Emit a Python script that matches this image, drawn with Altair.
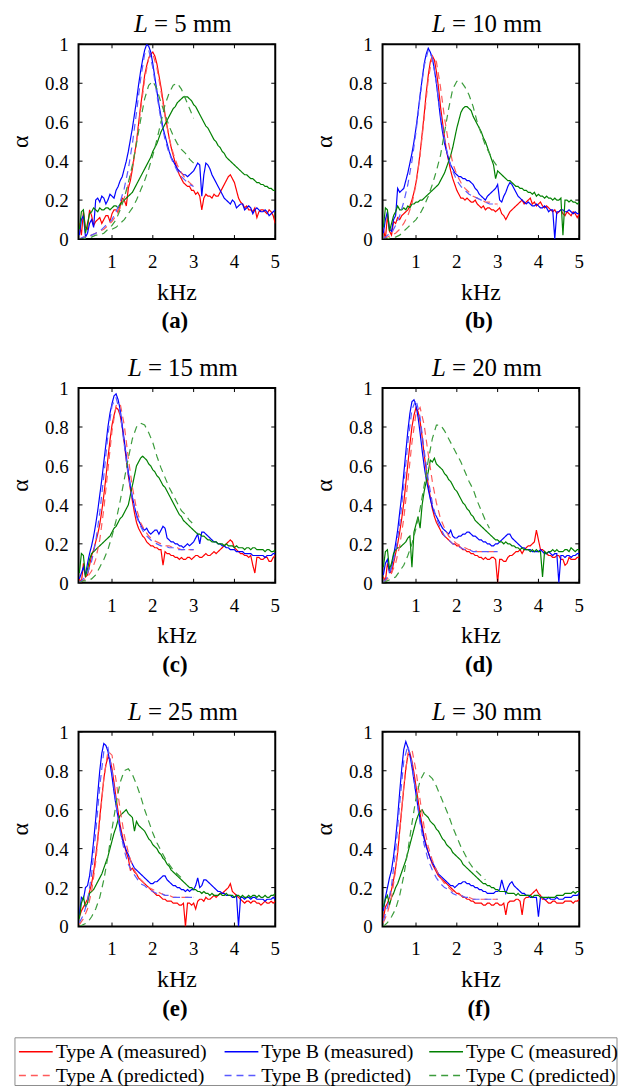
import altair as alt
import pandas as pd

FONT = "Liberation Serif"

FREQ = [0.20, 0.25, 0.30, 0.35, 0.40, 0.45, 0.50, 0.55, 0.60, 0.65,
        0.70, 0.75, 0.80, 0.85, 0.90, 0.95, 1.00, 1.05, 1.10, 1.15,
        1.20, 1.25, 1.30, 1.35, 1.40, 1.45, 1.50, 1.55, 1.60, 1.65,
        1.70, 1.75, 1.80, 1.85, 1.90, 1.95, 2.00, 2.05, 2.10, 2.15,
        2.20, 2.25, 2.30, 2.35, 2.40, 2.45, 2.50, 2.55, 2.60, 2.65,
        2.70, 2.75, 2.80, 2.85, 2.90, 2.95, 3.00, 3.05, 3.10, 3.15,
        3.20, 3.25, 3.30, 3.35, 3.40, 3.45, 3.50, 3.55, 3.60, 3.65,
        3.70, 3.75, 3.80, 3.85, 3.90, 3.95, 4.00, 4.05, 4.10, 4.15,
        4.20, 4.25, 4.30, 4.35, 4.40, 4.45, 4.50, 4.55, 4.60, 4.65,
        4.70, 4.75, 4.80, 4.85, 4.90, 4.95, 5.00]
PRED_FREQ = [0.2, 0.3, 0.4, 0.5, 0.6, 0.7, 0.8, 0.9, 1.0, 1.1,
             1.2, 1.3, 1.4, 1.5, 1.6, 1.7, 1.8, 1.9, 2.0, 2.1,
             2.2, 2.3, 2.4, 2.5, 2.6, 2.7, 2.8, 2.9, 3.0]

X_TICKS = [1, 2, 3, 4, 5]
X_LABELS = ["1", "2", "3", "4", "5"]
Y_TICKS = [0, 0.2, 0.4, 0.6, 0.8, 1]
Y_LABELS = ["0", "0.2", "0.4", "0.6", "0.8", "1"]
X_TITLE = "kHz"
Y_TITLE = "α"
LENGTHS = [5, 10, 15, 20, 25, 30]
LETTERS = ["a", "b", "c", "d", "e", "f"]

SERIES = ["Type A (measured)", "Type B (measured)", "Type C (measured)",
          "Type A (predicted)", "Type B (predicted)", "Type C (predicted)"]
COLORS = ["#ff0000", "#0000ff", "#008000", "#ff5a5a", "#5a5aff", "#3c9c3c"]

# ---------------- L = 5 mm ----------------
A5 = [.08, .02, .14, .06, .05, .15, .12, .07, .09, .10,
      .11, .08, .10, .12, .12, .09, .13, .15, .15, .14,
      .17, .21, .20, .17, .26, .30, .36, .43, .50, .59,
      .68, .76, .84, .89, .93, .95, .96, .94, .90, .84,
      .78, .71, .64, .58, .52, .47, .43, .39, .36, .33,
      .31, .29, .28, .27, .27, .25, .25, .23, .24, .22,
      .15, .21, .23, .22, .22, .21, .23, .22, .22, .24,
      .26, .28, .30, .32, .33, .31, .29, .25, .21, .19,
      .18, .16, .17, .15, .15, .14, .16, .11, .14, .15,
      .15, .14, .13, .15, .14, .12, .08]
B5 = [.02, .10, .12, .01, .03, .08, .10, .06, .20, .21,
      .19, .22, .21, .18, .20, .23, .22, .21, .25, .27,
      .30, .32, .36, .40, .45, .51, .57, .64, .71, .79,
      .86, .92, .97, 1.00, .99, .96, .90, .83, .76, .69,
      .63, .57, .53, .49, .45, .42, .40, .38, .36, .35,
      .34, .33, .33, .32, .33, .34, .35, .37, .39, .38,
      .22, .33, .39, .38, .36, .33, .31, .29, .27, .25,
      .23, .21, .20, .19, .18, .20, .19, .16, .17, .18,
      .18, .15, .16, .17, .16, .13, .15, .16, .15, .14,
      .14, .15, .14, .12, .13, .14, .15]
C5 = [.05, .14, .15, .03, .08, .13, .14, .16, .15, .14,
      .16, .15, .15, .16, .16, .15, .16, .17, .17, .16,
      .18, .19, .20, .21, .22, .23, .24, .26, .28, .30,
      .32, .34, .36, .38, .40, .42, .45, .47, .49, .52,
      .55, .57, .59, .61, .63, .65, .67, .68, .70, .71,
      .72, .73, .73, .73, .72, .71, .69, .68, .66, .64,
      .62, .60, .58, .57, .55, .53, .51, .50, .48, .47,
      .45, .44, .42, .41, .40, .39, .38, .37, .36, .35,
      .34, .33, .33, .32, .31, .31, .30, .29, .29, .28,
      .28, .27, .27, .26, .26, .25, .25]
PA5 = [0.00, 0.01, 0.01, 0.02, 0.03, 0.04, 0.05, 0.07, 0.09, 0.12,
       0.16, 0.21, 0.28, 0.37, 0.50, 0.66, 0.82, 0.93, 0.95, 0.88,
       0.76, 0.63, 0.52, 0.44, 0.38, 0.34, 0.31, 0.29, 0.27]
PB5 = [0.00, 0.01, 0.01, 0.02, 0.03, 0.04, 0.06, 0.08, 0.10, 0.14,
       0.19, 0.26, 0.36, 0.49, 0.65, 0.82, 0.95, 0.97, 0.88, 0.74,
       0.61, 0.51, 0.44, 0.39, 0.35, 0.32, 0.30, 0.28, 0.27]
PC5 = [0.00, 0.00, 0.01, 0.01, 0.02, 0.02, 0.03, 0.05, 0.07, 0.10,
       0.15, 0.21, 0.29, 0.38, 0.49, 0.61, 0.72, 0.79, 0.81, 0.77,
       0.70, 0.64, 0.58, 0.53, 0.49, 0.46, 0.44, 0.41, 0.39]
# second dashed Type C curve visible in panel (a)
PC5_SECOND = [None, None, None, None, None, None, None, None, 0.05, 0.06,
              0.08, 0.10, 0.13, 0.16, 0.20, 0.25, 0.30, 0.36, 0.43, 0.51,
              0.60, 0.69, 0.75, 0.79, 0.80, 0.77, 0.72, 0.67, 0.62]

# ---------------- L = 10 mm ----------------
A10 = [.05, .00, .12, .04, .02, .09, .08, .11, .10, .12,
       .13, .14, .15, .17, .20, .24, .29, .36, .44, .54,
       .64, .75, .84, .91, .94, .92, .86, .78, .68, .60,
       .52, .45, .40, .35, .31, .28, .25, .23, .21, .21,
       .20, .21, .20, .19, .19, .20, .18, .17, .16, .17,
       .15, .16, .16, .15, .15, .14, .15, .16, .13, .12,
       .10, .12, .14, .15, .16, .17, .18, .19, .20, .18,
       .19, .20, .21, .18, .19, .17, .18, .19, .17, .16,
       .17, .16, .15, .14, .15, .13, .14, .15, .13, .12,
       .14, .13, .12, .14, .13, .11, .13]
B10 = [.03, .10, .14, .05, .04, .10, .12, .26, .24, .25,
       .26, .30, .34, .39, .44, .50, .57, .65, .74, .82,
       .90, .95, .98, .96, .93, .87, .80, .71, .62, .55,
       .49, .45, .41, .38, .36, .34, .33, .32, .32, .31,
       .31, .30, .30, .29, .28, .26, .25, .23, .22, .21,
       .20, .22, .23, .24, .25, .26, .28, .20, .19, .22,
       .24, .27, .29, .28, .26, .24, .22, .21, .20, .19,
       .18, .19, .18, .17, .17, .18, .17, .16, .16, .17,
       .16, .14, .15, .15, .00, .14, .14, .15, .15, .14,
       .14, .15, .14, .13, .14, .13, .13]
C10 = [.06, .16, .15, .04, .08, .12, .14, .17, .15, .15,
       .16, .15, .17, .16, .18, .18, .19, .19, .20, .20,
       .21, .22, .23, .24, .25, .26, .27, .28, .30, .32,
       .34, .37, .40, .43, .47, .52, .57, .61, .65, .67,
       .68, .68, .67, .66, .63, .61, .59, .57, .55, .52,
       .50, .47, .44, .41, .38, .31, .35, .34, .33, .32,
       .31, .30, .30, .29, .28, .27, .27, .26, .26, .25,
       .25, .24, .24, .23, .24, .22, .23, .22, .22, .21,
       .22, .21, .21, .20, .21, .20, .20, .21, .02, .20,
       .20, .19, .20, .19, .19, .18, .19]
PA10 = [0.00, 0.01, 0.02, 0.03, 0.05, 0.08, 0.12, 0.18, 0.28, 0.43,
        0.62, 0.82, 0.94, 0.91, 0.78, 0.62, 0.49, 0.39, 0.33, 0.29,
        0.26, 0.24, 0.22, 0.21, 0.20, 0.19, 0.19, 0.18, 0.18]
PB10 = [0.00, 0.02, 0.03, 0.07, 0.12, 0.19, 0.28, 0.40, 0.55, 0.73,
        0.89, 0.97, 0.93, 0.80, 0.64, 0.51, 0.41, 0.35, 0.30, 0.27,
        0.25, 0.23, 0.22, 0.21, 0.20, 0.19, 0.18, 0.18, 0.17]
PC10 = [0.00, 0.00, 0.01, 0.01, 0.02, 0.04, 0.06, 0.08, 0.10, 0.13,
        0.17, 0.22, 0.28, 0.35, 0.43, 0.55, 0.67, 0.77, 0.81, 0.81,
        0.78, 0.74, 0.68, 0.60, 0.54, 0.48, 0.44, 0.40, 0.37]

# ---------------- L = 15 mm ----------------
A15 = [.02, .00, .10, .03, .04, .09, .14, .17, .21, .25,
       .30, .37, .45, .54, .64, .73, .81, .86, .90, .89,
       .86, .80, .72, .63, .55, .48, .42, .36, .31, .28,
       .26, .24, .23, .21, .20, .19, .19, .18, .18, .17,
       .17, .09, .16, .15, .15, .14, .14, .13, .13, .12,
       .13, .12, .12, .13, .13, .12, .13, .14, .14, .13,
       .13, .14, .15, .14, .14, .15, .16, .15, .16, .17,
       .18, .19, .20, .21, .22, .21, .18, .17, .16, .15,
       .15, .14, .14, .13, .14, .09, .05, .13, .13, .12,
       .12, .13, .13, .11, .11, .13, .14]
B15 = [.02, .05, .08, .04, .10, .15, .19, .24, .30, .37,
       .45, .53, .62, .71, .80, .87, .92, .96, .97, .94,
       .89, .81, .73, .65, .57, .50, .44, .39, .35, .32,
       .30, .28, .27, .28, .26, .25, .26, .27, .27, .25,
       .27, .29, .28, .23, .22, .21, .21, .20, .20, .19,
       .19, .18, .19, .20, .19, .20, .21, .23, .25, .20,
       .26, .26, .25, .24, .23, .22, .21, .21, .20, .20,
       .19, .19, .18, .18, .17, .17, .17, .16, .16, .16,
       .16, .15, .15, .15, .15, .14, .14, .14, .14, .14,
       .14, .13, .14, .14, .14, .15, .15]
C15 = [.05, .15, .14, .03, .07, .12, .15, .16, .17, .18,
       .19, .20, .21, .22, .23, .24, .26, .28, .29, .31,
       .33, .34, .36, .38, .40, .45, .50, .55, .60, .62,
       .64, .65, .64, .63, .61, .60, .58, .57, .55, .54,
       .52, .50, .49, .47, .45, .43, .41, .39, .37, .35,
       .34, .32, .31, .30, .29, .28, .27, .26, .25, .25,
       .24, .24, .23, .22, .22, .21, .21, .21, .20, .20,
       .20, .19, .20, .19, .19, .19, .18, .19, .18, .18,
       .18, .17, .18, .18, .17, .18, .18, .17, .17, .17,
       .17, .16, .17, .17, .16, .16, .17]
PA15 = [0.00, 0.01, 0.03, 0.06, 0.12, 0.22, 0.38, 0.58, 0.78, 0.91,
        0.92, 0.81, 0.64, 0.49, 0.38, 0.31, 0.27, 0.24, 0.22, 0.21,
        0.20, 0.19, 0.19, 0.18, 0.18, 0.17, 0.17, 0.17, 0.17]
PB15 = [0.00, 0.02, 0.05, 0.11, 0.21, 0.36, 0.55, 0.76, 0.91, 0.95,
        0.87, 0.71, 0.55, 0.43, 0.34, 0.29, 0.25, 0.23, 0.21, 0.20,
        0.19, 0.19, 0.18, 0.18, 0.17, 0.17, 0.17, 0.17, 0.17]
PC15 = [0.00, 0.01, 0.01, 0.02, 0.04, 0.08, 0.12, 0.17, 0.24, 0.32,
        0.42, 0.53, 0.64, 0.74, 0.80, 0.82, 0.81, 0.77, 0.72, 0.65,
        0.59, 0.54, 0.49, 0.45, 0.41, 0.37, 0.35, 0.32, 0.30]

# ---------------- L = 20 mm ----------------
A20 = [.03, .01, .10, .06, .05, .10, .15, .20, .26, .33,
       .41, .51, .61, .71, .80, .86, .90, .88, .83, .75,
       .66, .58, .50, .44, .38, .34, .31, .29, .27, .25,
       .24, .23, .22, .21, .20, .20, .19, .19, .18, .17,
       .17, .16, .16, .15, .15, .14, .14, .13, .13, .12,
       .13, .12, .12, .13, .13, .12, .00, .12, .12, .11,
       .11, .13, .14, .14, .15, .16, .16, .17, .15, .17,
       .18, .19, .19, .20, .21, .27, .22, .17, .17, .16,
       .15, .14, .14, .13, .13, .14, .14, .12, .12, .09,
       .10, .13, .12, .12, .12, .13, .13]
B20 = [.04, .10, .12, .05, .08, .14, .20, .27, .36, .45,
       .56, .67, .78, .87, .93, .94, .91, .85, .77, .68,
       .60, .53, .48, .43, .39, .36, .34, .32, .30, .28,
       .27, .26, .25, .27, .24, .23, .23, .24, .24, .25,
       .25, .26, .26, .25, .24, .24, .23, .22, .22, .21,
       .21, .20, .20, .19, .19, .20, .20, .21, .22, .23,
       .24, .25, .25, .23, .22, .21, .20, .19, .18, .18,
       .17, .17, .17, .16, .16, .16, .16, .17, .16, .15,
       .15, .16, .15, .14, .15, .15, .00, .14, .14, .13,
       .14, .14, .13, .14, .14, .15, .15]
C20 = [.08, .16, .17, .07, .10, .15, .17, .18, .18, .19,
       .20, .21, .23, .24, .08, .26, .30, .34, .28, .40,
       .47, .52, .57, .63, .62, .64, .61, .60, .59, .58,
       .56, .55, .53, .52, .50, .48, .47, .45, .43, .41,
       .40, .38, .37, .35, .34, .32, .31, .30, .29, .28,
       .27, .26, .25, .24, .23, .22, .22, .21, .21, .20,
       .21, .20, .20, .19, .19, .18, .18, .17, .18, .17,
       .17, .17, .16, .17, .16, .17, .16, .16, .03, .16,
       .15, .16, .16, .17, .16, .17, .16, .16, .16, .17,
       .17, .16, .18, .17, .16, .17, .17]
PA20 = [0.00, 0.02, 0.05, 0.10, 0.19, 0.33, 0.52, 0.72, 0.87, 0.90,
        0.81, 0.66, 0.52, 0.41, 0.33, 0.28, 0.24, 0.22, 0.20, 0.19,
        0.18, 0.17, 0.17, 0.16, 0.16, 0.16, 0.16, 0.16, 0.16]
PB20 = [0.00, 0.03, 0.08, 0.16, 0.30, 0.50, 0.72, 0.89, 0.94, 0.85,
        0.68, 0.53, 0.41, 0.33, 0.28, 0.24, 0.22, 0.20, 0.19, 0.18,
        0.17, 0.17, 0.16, 0.16, 0.16, 0.16, 0.16, 0.16, 0.16]
PC20 = [0.00, 0.01, 0.02, 0.03, 0.06, 0.09, 0.14, 0.20, 0.28, 0.38,
        0.50, 0.63, 0.74, 0.81, 0.81, 0.78, 0.74, 0.70, 0.66, 0.62,
        0.57, 0.52, 0.48, 0.42, 0.37, 0.32, 0.28, None, None]

# ---------------- L = 25 mm ----------------
A25 = [.05, .08, .10, .12, .14, .18, .22, .28, .36, .45,
       .56, .66, .76, .83, .87, .86, .81, .74, .66, .59,
       .52, .47, .42, .38, .35, .29, .30, .28, .27, .25,
       .24, .23, .22, .21, .20, .19, .18, .17, .16, .16,
       .15, .14, .14, .13, .13, .13, .12, .12, .12, .11,
       .11, .12, .00, .12, .12, .11, .12, .09, .13, .14,
       .14, .13, .15, .14, .14, .15, .16, .15, .16, .17,
       .17, .18, .19, .20, .22, .18, .17, .16, .15, .14,
       .13, .12, .13, .13, .12, .13, .13, .12, .12, .11,
       .12, .13, .12, .12, .13, .12, .13]
B25 = [.06, .15, .14, .20, .21, .26, .34, .44, .55, .68,
       .80, .89, .94, .93, .90, .84, .77, .69, .62, .56,
       .50, .45, .42, .39, .37, .34, .32, .30, .29, .28,
       .27, .26, .25, .24, .23, .22, .22, .23, .23, .24,
       .25, .26, .26, .24, .23, .22, .21, .21, .20, .20,
       .19, .19, .18, .19, .18, .19, .19, .21, .25, .20,
       .21, .24, .24, .23, .22, .21, .20, .19, .18, .18,
       .17, .17, .16, .16, .16, .15, .15, .16, .00, .15,
       .15, .14, .15, .15, .14, .15, .15, .14, .14, .14,
       .14, .13, .14, .14, .14, .15, .14]
C25 = [.04, .12, .15, .10, .12, .17, .18, .19, .21, .23,
       .25, .27, .30, .33, .36, .40, .44, .48, .51, .55,
       .57, .58, .59, .60, .58, .57, .56, .49, .54, .52,
       .51, .50, .49, .47, .45, .44, .42, .41, .40, .38,
       .37, .35, .34, .32, .31, .29, .28, .27, .26, .25,
       .24, .23, .22, .21, .20, .20, .19, .19, .18, .18,
       .17, .18, .17, .17, .16, .17, .16, .16, .16, .17,
       .16, .16, .17, .16, .16, .16, .15, .16, .16, .15,
       .16, .15, .15, .16, .15, .16, .16, .15, .16, .15,
       .15, .16, .15, .15, .16, .16, .17]
PA25 = [0.01, 0.04, 0.09, 0.18, 0.33, 0.54, 0.76, 0.90, 0.88, 0.75,
        0.60, 0.47, 0.38, 0.31, 0.27, 0.24, 0.22, 0.20, 0.19, 0.18,
        0.17, 0.16, 0.16, 0.15, 0.15, 0.15, 0.15, 0.15, 0.15]
PB25 = [0.02, 0.06, 0.13, 0.27, 0.48, 0.72, 0.90, 0.92, 0.80, 0.63,
        0.49, 0.39, 0.32, 0.28, 0.25, 0.22, 0.21, 0.19, 0.18, 0.17,
        0.17, 0.16, 0.16, 0.15, 0.15, 0.15, 0.15, 0.15, 0.15]
PC25 = [0.00, 0.01, 0.02, 0.05, 0.09, 0.15, 0.24, 0.36, 0.50, 0.63,
        0.74, 0.80, 0.81, 0.78, 0.73, 0.67, 0.60, 0.54, 0.48, 0.43,
        0.39, 0.35, 0.32, 0.29, 0.27, 0.25, None, None, None]

# ---------------- L = 30 mm ----------------
A30 = [.04, .10, .12, .15, .19, .24, .30, .38, .49, .60,
       .71, .81, .88, .89, .85, .79, .72, .65, .58, .52,
       .46, .42, .38, .35, .32, .30, .28, .26, .25, .24,
       .23, .22, .21, .20, .19, .18, .17, .17, .16, .15,
       .15, .14, .14, .13, .13, .12, .12, .12, .12, .11,
       .11, .12, .12, .11, .11, .12, .12, .11, .11, .12,
       .06, .12, .13, .13, .13, .14, .14, .13, .06, .14,
       .15, .15, .16, .17, .18, .19, .17, .16, .14, .14,
       .13, .12, .12, .13, .13, .12, .12, .12, .12, .13,
       .13, .13, .13, .12, .13, .13, .14]
B30 = [.08, .15, .20, .25, .29, .36, .45, .56, .69, .81,
       .91, .95, .92, .88, .82, .75, .68, .61, .55, .50,
       .45, .41, .38, .35, .33, .31, .29, .27, .26, .25,
       .24, .23, .22, .21, .21, .20, .21, .22, .22, .23,
       .23, .22, .22, .21, .21, .20, .20, .19, .19, .18,
       .18, .17, .17, .17, .17, .18, .18, .19, .24, .20,
       .17, .20, .22, .23, .21, .20, .19, .18, .17, .17,
       .16, .16, .15, .15, .15, .15, .05, .15, .15, .14,
       .14, .15, .14, .14, .14, .15, .14, .14, .14, .15,
       .15, .15, .15, .16, .16, .16, .17]
C30 = [.10, .14, .16, .11, .15, .17, .20, .22, .25, .28,
       .31, .34, .38, .42, .46, .50, .54, .57, .59, .60,
       .58, .57, .56, .54, .53, .52, .50, .49, .47, .45,
       .44, .42, .41, .40, .38, .37, .36, .35, .34, .32,
       .31, .30, .29, .28, .27, .26, .25, .24, .23, .22,
       .22, .21, .21, .20, .20, .19, .19, .18, .18, .18,
       .18, .17, .17, .17, .17, .16, .17, .16, .16, .16,
       .16, .16, .16, .15, .16, .16, .16, .15, .15, .15,
       .15, .15, .15, .15, .15, .16, .16, .16, .16, .17,
       .17, .17, .17, .18, .17, .18, .18]
PA30 = [0.02, 0.07, 0.15, 0.29, 0.49, 0.72, 0.89, 0.91, 0.80, 0.65,
        0.51, 0.41, 0.34, 0.29, 0.25, 0.22, 0.20, 0.18, 0.17, 0.16,
        0.15, 0.15, 0.14, 0.14, 0.14, 0.14, 0.14, 0.14, 0.14]
PB30 = [0.03, 0.10, 0.21, 0.39, 0.63, 0.85, 0.93, 0.84, 0.68, 0.53,
        0.42, 0.34, 0.29, 0.25, 0.22, 0.20, 0.19, 0.17, 0.16, 0.16,
        0.15, 0.15, 0.14, 0.14, 0.14, 0.14, 0.14, 0.14, 0.14]
PC30 = [0.00, 0.02, 0.05, 0.09, 0.16, 0.26, 0.39, 0.53, 0.66, 0.75,
        0.79, 0.78, 0.76, 0.72, 0.67, 0.62, 0.57, 0.51, 0.46, 0.41,
        0.37, 0.33, 0.30, 0.28, 0.26, 0.24, None, None, None]

MEAS = [(A5, B5, C5), (A10, B10, C10), (A15, B15, C15),
        (A20, B20, C20), (A25, B25, C25), (A30, B30, C30)]
PRED = [(PA5, PB5, PC5), (PA10, PB10, PC10), (PA15, PB15, PC15),
        (PA20, PB20, PC20), (PA25, PB25, PC25), (PA30, PB30, PC30)]
EXTRA_PRED = [[PC5_SECOND], [], [], [], [], []]

# ---------------- styling / layout ----------------
W, H = 198, 196
TICK = 4
DASH = [7, 5]
DASHES = [[1, 0], [1, 0], [1, 0], DASH, DASH, DASH]
WIDTHS = [1.2, 1.2, 1.2, 1.0, 1.0, 1.0]

# legend box geometry, relative to the plot area of panel (e)
LEG_LEFT, LEG_RIGHT, LEG_TOP, LEG_BOTTOM = -64, 542, 308, 356
LEG_COL_X = [-60, 147, 353]
LEG_ROW_Y = [322, 346]
LEG_SYMBOL = 34


def legend_layers():
    one = pd.DataFrame({"t": [0]})
    layers = [alt.Chart(one).mark_rect(
        fill="white", stroke="#8c8c8c", strokeWidth=1).encode(
        x=alt.value(LEG_LEFT), x2=alt.value(LEG_RIGHT),
        y=alt.value(LEG_TOP), y2=alt.value(LEG_BOTTOM))]
    for k, name in enumerate(SERIES):
        r, c = divmod(k, 3)
        x0, yy = LEG_COL_X[c], LEG_ROW_Y[r]
        props = dict(color=COLORS[k], strokeWidth=1.5)
        if r == 1:
            props["strokeDash"] = DASH
        layers.append(alt.Chart(one).mark_rule(**props).encode(
            x=alt.value(x0), x2=alt.value(x0 + LEG_SYMBOL), y=alt.value(yy)))
        layers.append(alt.Chart(one).mark_text(
            text=name, font=FONT, fontSize=20, color="black", align="left",
            baseline="middle").encode(x=alt.value(x0 + LEG_SYMBOL + 3), y=alt.value(yy)))
    return layers


def panel(i):
    L = LENGTHS[i]
    rows = []
    for name, vals in zip(SERIES[:3], MEAS[i]):
        for f, v in zip(FREQ, vals):
            rows.append({"f": f, "a": v, "s": name, "g": name})
    for name, vals in zip(SERIES[3:], PRED[i]):
        for f, v in zip(PRED_FREQ, vals):
            if v is not None:
                rows.append({"f": f, "a": v, "s": name, "g": name})
    for k, vals in enumerate(EXTRA_PRED[i]):
        for f, v in zip(PRED_FREQ, vals):
            if v is not None:
                rows.append({"f": f, "a": v, "s": SERIES[5], "g": f"extra{k}"})
    df = pd.DataFrame(rows)

    xs = alt.Scale(domain=[0.18, 5], nice=False, zero=False)
    ys = alt.Scale(domain=[0, 1], nice=False, zero=False)

    lines = alt.Chart(df).mark_line(clip=True).encode(
        x=alt.X("f:Q", scale=xs, axis=None),
        y=alt.Y("a:Q", scale=ys, axis=None),
        detail="g:N",
        color=alt.Color("s:N", scale=alt.Scale(domain=SERIES, range=COLORS), legend=None),
        strokeDash=alt.StrokeDash("s:N", scale=alt.Scale(domain=SERIES, range=DASHES),
                                  legend=None),
        strokeWidth=alt.StrokeWidth("s:N", scale=alt.Scale(domain=SERIES, range=WIDTHS),
                                    legend=None),
    )

    ydf = pd.DataFrame({"a": Y_TICKS, "lab": Y_LABELS})
    xdf = pd.DataFrame({"f": X_TICKS, "lab": X_LABELS})
    rule = dict(color="black", strokeWidth=1)
    yx = alt.Y("a:Q", scale=ys, axis=None)
    xx = alt.X("f:Q", scale=xs, axis=None)
    yl = alt.Chart(ydf).mark_rule(**rule).encode(y=yx, x=alt.value(0), x2=alt.value(TICK))
    yr = alt.Chart(ydf).mark_rule(**rule).encode(y=yx, x=alt.value(W - TICK), x2=alt.value(W))
    xb = alt.Chart(xdf).mark_rule(**rule).encode(x=xx, y=alt.value(H - TICK), y2=alt.value(H))
    xt = alt.Chart(xdf).mark_rule(**rule).encode(x=xx, y=alt.value(0), y2=alt.value(TICK))

    ylab = alt.Chart(ydf).mark_text(
        font=FONT, fontSize=19, color="black", align="right", baseline="middle", dy=1
    ).encode(y=yx, x=alt.value(-10), text="lab:N")
    xlab = alt.Chart(xdf).mark_text(
        font=FONT, fontSize=19, color="black", align="center", baseline="alphabetic"
    ).encode(x=xx, y=alt.value(H + 29), text="lab:N")

    one = pd.DataFrame({"t": [0]})
    xtitle = alt.Chart(one).mark_text(
        text=X_TITLE, font=FONT, fontSize=24, color="black", align="center",
        baseline="alphabetic").encode(x=alt.value(W / 2), y=alt.value(H + 61))
    ytitle = alt.Chart(one).mark_text(
        text=Y_TITLE, font=FONT, fontSize=24, color="black", align="center",
        baseline="middle", angle=270).encode(x=alt.value(-58), y=alt.value(H / 2))

    fs = 25
    rest = f"= {L} mm"
    wL = 0.556 * fs
    total = wL + 0.25 * fs + (0.564 + 0.25 + 0.5 * len(str(L)) + 0.25 + 1.556) * fs
    lx = W / 2 + 6 - total / 2
    tL = alt.Chart(one).mark_text(
        text="L", font=FONT, fontSize=fs, fontStyle="italic", align="left",
        baseline="alphabetic", color="black").encode(x=alt.value(lx), y=alt.value(-12))
    tR = alt.Chart(one).mark_text(
        text=rest, font=FONT, fontSize=fs, align="left", baseline="alphabetic",
        color="black").encode(x=alt.value(lx + wL + 0.25 * fs), y=alt.value(-12))
    tLet = alt.Chart(one).mark_text(
        text=f"({LETTERS[i]})", font=FONT, fontSize=23, fontWeight="bold",
        align="center", baseline="alphabetic", color="black").encode(
        x=alt.value(W / 2 - 2), y=alt.value(H + 90))

    layers = [lines, yl, yr, xb, xt, ylab, xlab, xtitle, ytitle, tL, tR, tLet]
    if i == 4:
        layers += legend_layers()
    return alt.layer(*layers).properties(width=W, height=H)


chart = alt.concat(
    *[panel(i) for i in range(6)], columns=2, bounds="flush",
    spacing={"row": 150, "column": 108},
).properties(
    padding={"left": 0, "top": 0, "right": 0, "bottom": 0},
    background="white",
).configure_view(
    stroke="black", strokeWidth=2
)

chart.save("out.html", embed_options={"renderer": "svg", "actions": False})
